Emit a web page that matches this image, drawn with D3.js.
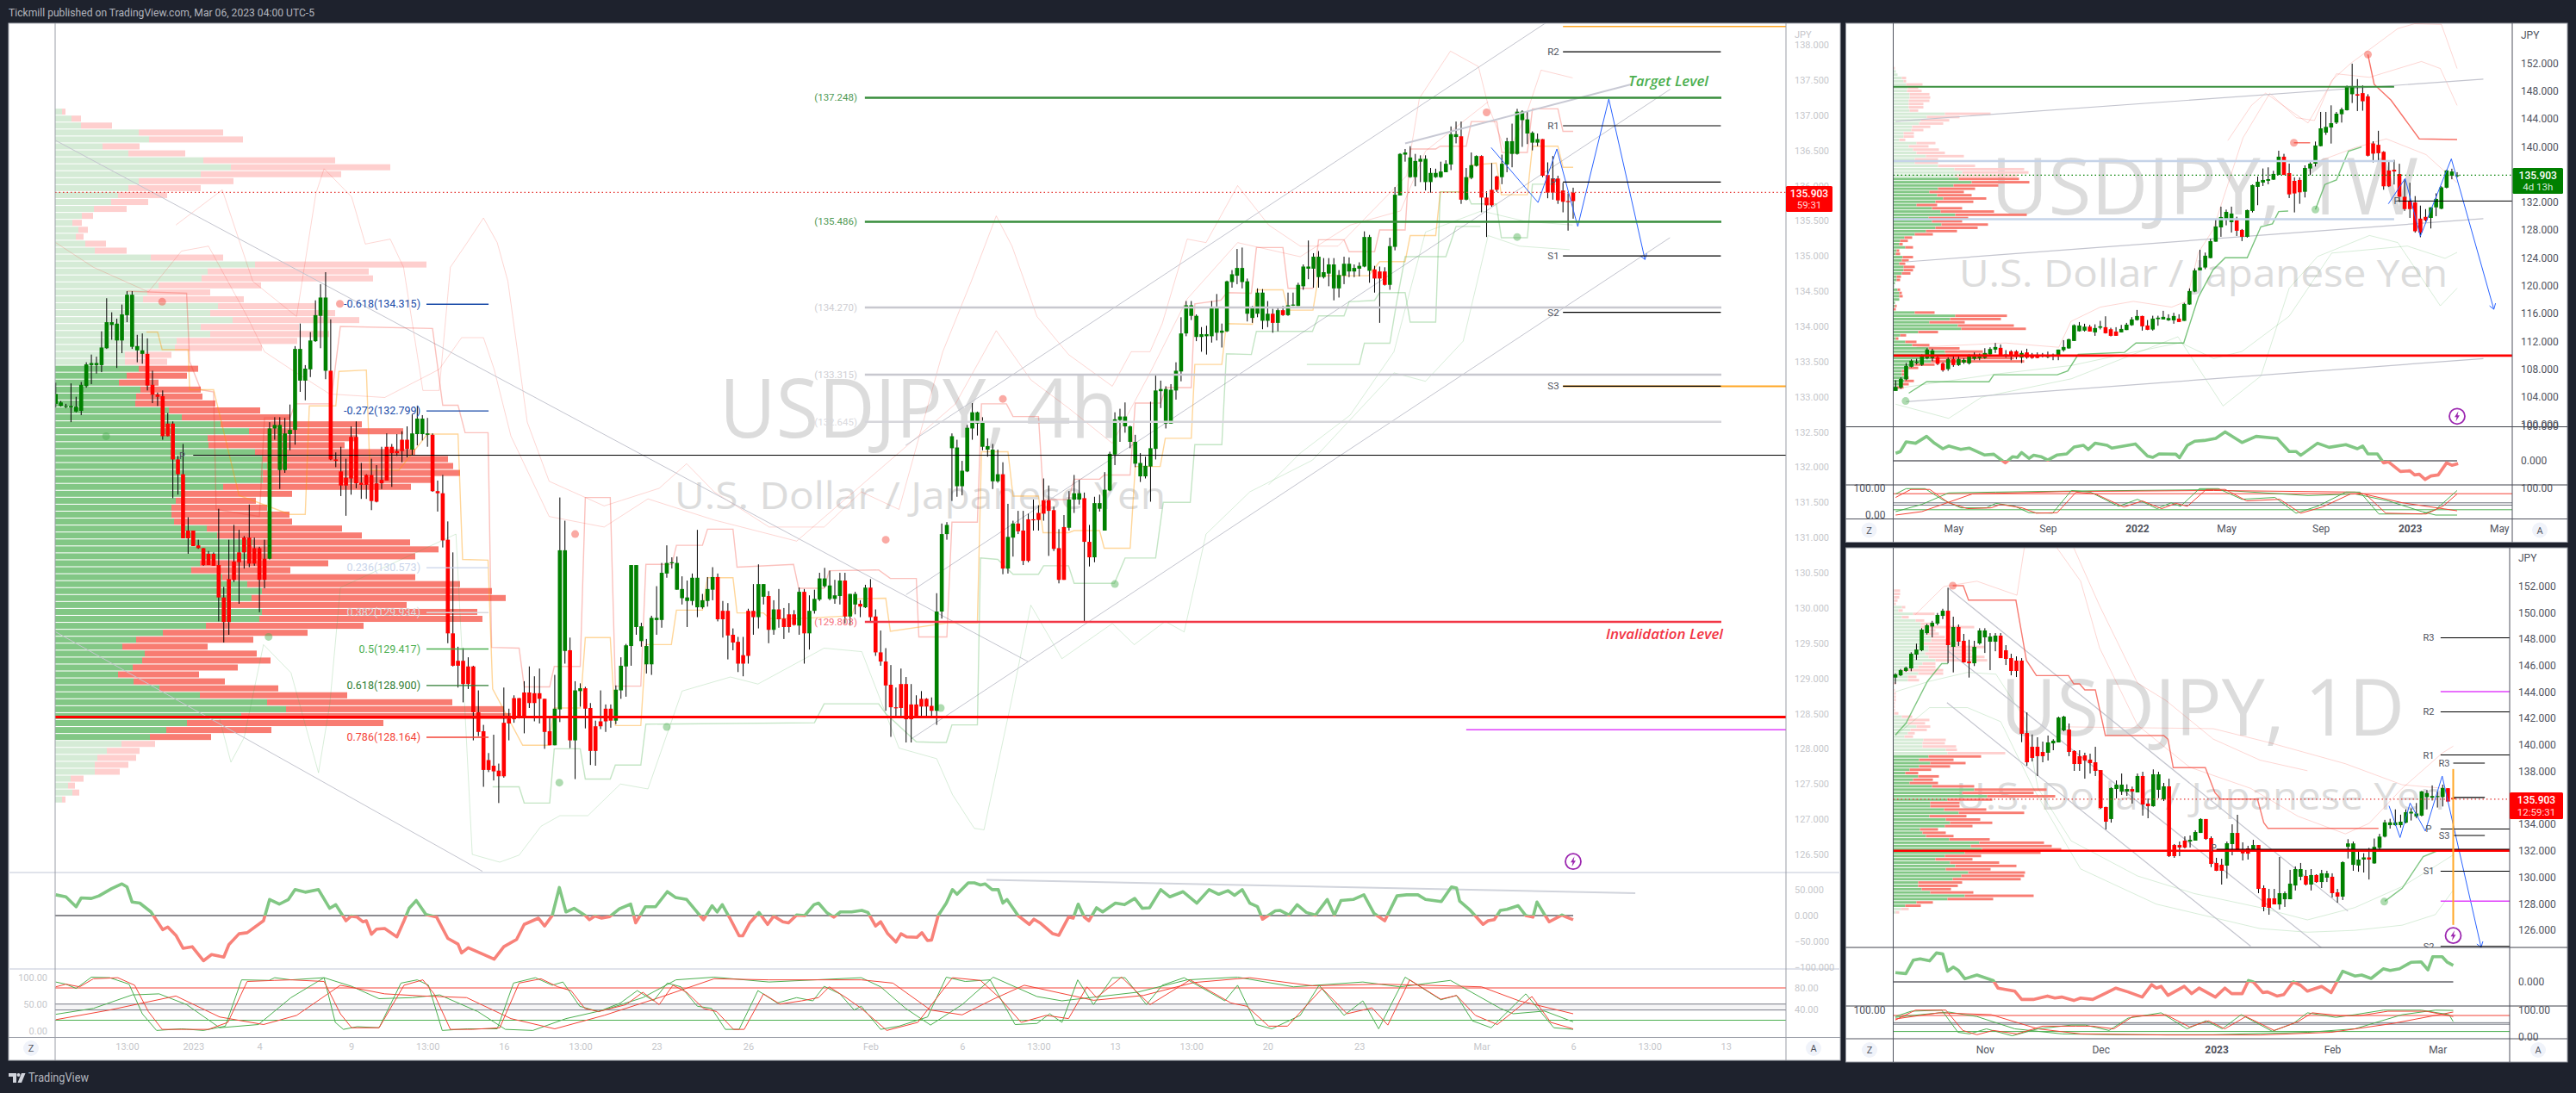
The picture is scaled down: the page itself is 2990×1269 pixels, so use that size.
<!DOCTYPE html>
<html><head><meta charset="utf-8"><title>USDJPY</title>
<script src="https://cdn.jsdelivr.net/npm/d3@7"></script>
<style>html,body{margin:0;padding:0;background:#1e222d;overflow:hidden}svg{display:block}</style></head>
<body><svg id="c" width="2990" height="1269" xmlns="http://www.w3.org/2000/svg"></svg>
<script>
/* ---------- DATA: [open, high, low, close] ---------- */
const bars4h=[[132.90,133.20,132.85,133.04],[132.87,132.94,132.86,132.92],[132.86,132.90,132.84,132.87],[132.85,133.19,132.64,132.87],[132.79,133.00,132.78,132.86],[132.80,133.21,132.74,133.17],[133.15,133.49,133.13,133.46],[133.45,133.60,133.18,133.48],[133.45,133.57,133.33,133.48],[133.45,133.93,133.35,133.70],[133.69,134.40,133.68,134.06],[134.02,134.20,133.81,134.06],[133.80,134.11,133.41,134.04],[133.80,134.31,133.62,134.17],[134.16,134.50,134.06,134.45],[133.71,134.50,133.68,134.45],[133.66,133.88,133.49,133.72],[133.61,133.90,133.47,133.66],[133.61,133.83,133.09,133.16],[133.17,133.37,132.91,133.03],
[133.03,133.06,132.87,133.00],[133.01,133.09,132.39,132.44],[132.62,132.77,132.44,132.44],[132.62,132.65,131.56,132.11],[132.11,132.16,131.61,131.90],[131.90,132.33,130.99,130.99],[131.10,131.29,130.77,130.99],[131.10,131.10,130.88,130.88],[130.89,130.97,130.84,130.85],[130.85,130.85,130.60,130.61],[130.77,130.81,130.61,130.61],[130.77,130.79,130.60,130.60],[130.61,131.41,129.81,130.15],[130.15,130.30,129.51,129.80],[130.41,130.97,129.62,129.80],[130.66,131.18,130.37,130.40],[130.79,131.11,130.06,130.65],[131.00,131.02,130.56,130.79],[131.00,131.47,130.58,130.63],[130.85,131.00,130.60,130.63],
[130.85,130.87,129.94,130.40],[130.70,130.97,130.28,130.40],[130.70,132.64,130.69,132.55],[132.55,132.71,132.39,132.60],[131.96,132.71,131.69,132.60],[131.96,132.70,131.92,132.48],[132.47,132.89,132.24,132.53],[132.53,133.72,132.32,133.68],[133.23,134.04,133.07,133.68],[133.23,133.45,132.95,133.40],[133.39,133.92,133.28,133.80],[133.79,134.37,133.78,134.16],[134.15,134.60,133.69,134.41],[133.37,134.77,133.25,134.41],[133.37,134.10,132.10,132.11],[132.11,132.21,132.00,132.09],[131.94,132.29,131.59,131.74],[131.85,132.12,131.31,131.74],[132.43,132.58,131.61,131.84],[132.43,132.65,131.70,131.77],
[131.78,132.06,131.55,131.75],[131.89,131.90,131.55,131.75],[131.89,132.12,131.39,131.52],[131.77,132.03,131.50,131.51],[131.82,132.29,131.69,131.77],[132.29,132.48,131.81,131.81],[132.29,132.33,131.72,132.20],[132.23,132.47,132.16,132.20],[132.39,132.51,132.07,132.23],[132.39,132.58,132.14,132.26],[132.25,132.75,132.17,132.48],[132.47,132.87,132.31,132.69],[132.47,132.74,132.38,132.69],[132.46,132.70,132.29,132.48],[132.46,132.48,131.65,131.66],[131.66,131.81,131.37,131.63],[131.63,131.89,130.86,130.96],[130.97,131.23,129.50,129.64],[129.64,130.79,129.17,129.18],[129.25,129.45,128.87,129.18],
[129.25,129.43,128.66,128.92],[129.17,129.30,128.85,128.92],[129.17,129.18,128.12,128.52],[128.52,128.83,128.18,128.24],[128.25,128.34,127.46,127.70],[127.84,127.94,127.67,127.70],[127.76,128.20,127.55,127.68],[127.69,127.79,127.23,127.61],[128.37,128.87,127.59,127.61],[128.43,128.57,128.12,128.36],[128.72,128.76,128.37,128.42],[128.72,128.72,128.43,128.45],[128.80,128.96,128.22,128.46],[128.80,129.17,128.58,128.65],[128.79,129.03,128.39,128.65],[128.79,129.14,128.36,128.71],[128.71,128.71,128.00,128.24],[128.25,128.44,128.05,128.05],[128.05,129.05,128.05,128.57],[128.56,131.57,128.38,130.82],
[129.39,131.24,129.21,130.82],[129.40,129.58,128.01,128.12],[128.12,128.96,127.57,128.83],[128.82,128.93,128.60,128.86],[128.86,128.88,128.29,128.57],[128.58,128.65,127.77,127.97],[128.32,128.40,127.76,127.97],[128.39,128.83,128.28,128.32],[128.57,128.63,128.24,128.39],[128.57,128.63,128.30,128.40],[128.40,128.90,128.35,128.84],[128.83,129.30,128.71,129.18],[129.17,129.49,128.74,129.47],[129.46,130.61,129.18,130.61],[129.73,130.61,129.62,130.61],[129.53,129.79,129.45,129.74],[129.20,129.56,129.07,129.46],[129.20,129.89,129.05,129.86],[129.83,130.31,129.62,129.86],[129.83,130.64,129.72,130.50],
[130.49,130.89,130.43,130.64],[130.64,130.72,130.56,130.65],[130.26,130.73,130.26,130.64],[130.14,130.45,130.05,130.27],[130.10,130.39,129.73,130.15],[130.10,130.49,130.04,130.43],[130.01,131.11,129.87,130.43],[130.01,130.20,129.99,130.11],[130.10,130.44,130.02,130.27],[130.26,130.58,130.11,130.44],[130.44,130.49,129.81,129.84],[129.96,130.10,129.58,129.84],[129.96,130.07,129.27,129.61],[129.62,129.71,129.40,129.51],[129.52,129.59,129.09,129.21],[129.33,129.59,129.03,129.21],[129.96,129.99,129.21,129.32],[129.96,130.34,129.62,129.87],[129.87,130.62,129.71,130.34],[130.16,130.34,130.05,130.34],
[130.17,130.24,129.50,129.69],[129.69,130.11,129.62,129.98],[129.98,130.27,129.72,129.84],[129.85,130.00,129.56,129.73],[129.91,130.07,129.65,129.73],[129.91,129.97,129.75,129.76],[129.75,130.29,129.62,130.23],[130.23,130.27,129.21,129.64],[129.64,130.18,129.41,129.96],[129.96,130.26,129.92,130.13],[130.12,130.50,130.10,130.42],[130.31,130.57,130.29,130.42],[130.13,130.53,130.11,130.32],[130.13,130.40,130.06,130.18],[130.17,130.50,130.05,130.39],[130.39,130.50,129.78,129.88],[129.88,130.20,129.75,130.20],[130.05,130.23,129.91,130.20],[130.06,130.11,129.87,130.02],[130.01,130.33,130.00,130.29],
[130.29,130.41,129.81,129.87],[129.88,129.98,129.32,129.37],[129.37,129.68,129.18,129.24],[129.24,129.43,128.54,128.90],[128.91,129.19,128.17,128.59],[128.59,128.87,128.47,128.58],[128.92,129.14,128.47,128.58],[128.92,129.02,128.09,128.42],[128.63,128.92,128.09,128.42],[128.63,128.76,128.44,128.47],[128.71,128.82,128.45,128.60],[128.71,128.72,128.44,128.60],[128.61,128.73,128.47,128.54],[128.54,130.21,128.34,129.95],[129.95,131.20,129.85,131.05],[131.05,131.22,130.97,131.18],[132.27,132.48,131.52,132.44],[131.73,132.39,131.58,132.28],[131.73,132.09,131.60,131.95],[131.94,132.60,131.93,132.56],
[132.55,132.91,132.39,132.78],[132.62,132.79,132.45,132.78],[132.29,132.71,132.24,132.63],[132.25,132.41,132.15,132.30],[131.80,132.33,131.69,132.25],[131.80,132.25,131.78,131.90],[131.90,132.07,130.48,130.56],[130.56,131.48,130.49,131.01],[131.00,131.24,130.73,131.20],[131.20,131.38,131.05,131.09],[131.10,131.38,130.61,130.67],[131.26,131.34,130.65,130.67],[131.26,131.54,131.10,131.25],[131.35,131.46,131.10,131.25],[131.53,131.84,131.24,131.34],[131.53,131.74,130.74,131.38],[131.39,131.44,130.81,130.84],[130.85,131.12,130.35,130.40],[131.15,131.32,130.40,130.40],[131.14,131.66,131.10,131.54],
[131.54,131.89,131.35,131.63],[131.54,131.82,131.47,131.63],[131.56,131.64,129.81,130.94],[130.94,131.18,130.59,130.72],[130.72,131.58,130.65,131.49],[131.41,131.61,131.37,131.49],[131.10,131.93,131.10,131.68],[131.67,132.22,131.66,132.19],[132.18,132.78,132.03,132.68],[132.67,132.83,132.36,132.72],[132.58,132.92,132.49,132.72],[132.36,132.59,132.27,132.58],[132.05,132.46,132.00,132.36],[131.87,132.20,131.79,132.06],[131.87,132.15,131.84,132.02],[132.01,132.93,131.51,132.27],[132.26,133.32,132.11,133.09],[133.08,133.23,132.84,133.11],[132.62,133.15,132.55,133.11],[132.62,133.18,132.62,133.10],
[133.09,133.49,132.96,133.37],[133.36,134.13,133.22,133.90],[133.90,134.36,133.86,134.30],[134.15,134.36,134.09,134.30],[133.85,134.17,133.79,134.15],[133.85,133.99,133.64,133.89],[133.86,134.01,133.60,133.89],[133.86,134.36,133.77,134.26],[133.91,134.46,133.80,134.26],[133.91,134.04,133.70,133.94],[133.93,134.65,133.92,134.64],[134.63,134.80,134.55,134.74],[134.72,135.10,134.60,134.83],[134.63,135.12,134.54,134.83],[134.18,134.68,134.07,134.64],[134.12,134.29,134.05,134.27],[134.18,134.54,134.13,134.48],[134.08,134.53,133.96,134.48],[134.08,134.36,133.99,134.18],[134.18,134.25,133.91,134.05],
[134.05,134.26,133.93,134.23],[134.23,134.29,134.15,134.16],[134.16,134.48,134.15,134.30],[134.30,134.48,134.29,134.31],[134.29,134.62,134.29,134.59],[134.57,134.88,134.52,134.85],[134.82,135.22,134.67,134.85],[134.82,135.04,134.55,134.99],[134.70,135.07,134.55,134.99],[134.70,134.97,134.68,134.77],[134.75,134.97,134.57,134.88],[134.54,134.97,134.37,134.88],[134.54,134.80,134.41,134.73],[134.72,134.99,134.60,134.89],[134.78,134.98,134.70,134.89],[134.78,134.88,134.70,134.83],[134.82,134.91,134.71,134.86],[134.85,135.35,134.84,135.27],[134.79,135.30,134.62,135.27],[134.81,134.86,134.48,134.68],
[134.78,134.85,134.05,134.68],[134.78,134.84,134.58,134.59],[134.59,135.26,134.52,135.14],[135.13,135.98,135.08,135.87],[135.86,136.46,135.86,136.45],[136.44,136.52,136.34,136.47],[136.12,136.56,136.11,136.40],[136.12,136.45,135.99,136.35],[136.34,136.43,136.05,136.38],[136.05,136.43,135.93,136.38],[136.05,136.25,135.90,136.18],[136.12,136.24,136.11,136.18],[136.12,136.34,136.11,136.20],[136.19,136.36,136.19,136.31],[136.30,136.84,136.22,136.73],[136.69,136.91,136.60,136.73],[136.70,136.91,135.74,135.80],[135.80,136.25,135.79,136.12],[136.11,136.47,136.09,136.29],[136.28,136.43,136.27,136.42],
[136.42,136.43,135.62,135.83],[135.83,135.92,135.27,135.72],[135.94,136.32,135.70,135.72],[136.13,136.14,135.91,135.94],[136.12,136.44,136.02,136.31],[136.30,136.68,136.19,136.63],[136.45,136.88,136.26,136.63],[136.45,137.09,136.44,137.05],[136.93,137.07,136.55,137.05],[136.74,137.05,136.59,136.94],[136.61,136.77,136.50,136.75],[136.61,136.74,136.56,136.66],[136.66,136.66,136.12,136.14],[136.15,136.33,135.82,135.90],[136.10,136.42,135.80,135.90],[136.10,136.14,135.74,135.79],[135.93,136.04,135.62,135.77],[135.78,135.89,135.36,135.77],[135.90,135.97,135.53,135.78]];

const barsW=[[104.85,106.38,104.85,105.43],[105.35,106.80,105.15,106.59],[106.51,108.86,106.38,108.45],[108.32,109.40,108.24,109.19],[108.86,109.48,108.65,109.07],[108.61,110.10,108.45,109.85],[109.56,111.00,109.40,110.80],[109.56,110.92,109.15,110.68],[109.68,109.89,108.57,108.74],[108.82,108.94,107.62,107.83],[107.99,109.68,107.74,109.44],[109.44,109.81,108.32,108.57],[108.57,109.81,108.45,109.44],[108.94,109.56,108.74,109.31],[108.82,110.10,108.65,109.89],[109.48,110.39,109.27,109.89],[109.56,110.22,109.27,109.81],[109.60,111.00,109.48,110.31],[110.10,111.13,109.89,110.88],[110.80,111.75,110.31,111.17],[111.05,111.54,109.81,109.89],[110.10,110.72,109.64,109.81],[110.55,110.72,109.27,109.89],[110.55,110.72,109.40,109.73],[109.64,110.63,108.86,110.31],[110.39,110.92,109.48,109.64],[110.06,110.31,109.48,109.60],[110.06,110.39,109.56,109.60],[110.06,110.31,109.68,109.81],[109.73,110.51,109.56,109.97],[109.97,110.22,109.27,110.06],[109.97,110.80,109.27,110.80],[110.72,112.16,110.51,111.17],[110.97,112.37,110.92,112.29],[112.04,114.43,112.04,114.31],[113.44,114.76,113.40,114.27],[113.53,114.52,113.40,114.10],[114.10,114.35,113.40,113.40],[113.28,114.43,112.78,113.90],[113.94,114.93,113.70,114.15],[114.02,115.59,113.11,113.15],[113.73,113.94,112.70,112.78],[113.40,114.02,112.78,112.78],[113.28,114.35,113.28,113.77],[113.61,114.64,113.61,114.39],[114.31,115.47,114.22,115.14],[115.05,116.50,114.97,115.63],[115.63,115.67,113.53,114.15],[114.27,115.05,113.60,113.65],[113.69,115.67,113.53,115.26],[115.18,115.67,114.23,115.39],[115.14,116.38,115.14,115.51],[115.01,115.88,114.93,115.34],[115.01,116.09,114.52,115.63],[115.26,115.88,114.77,114.77],[114.93,117.53,114.93,117.37],[117.29,119.60,117.25,119.23],[119.14,122.49,119.06,122.20],[122.20,125.17,122.20,122.61],[122.61,124.76,122.37,124.31],[123.97,126.74,123.93,126.41],[126.33,129.51,126.33,128.52],[128.39,131.37,127.03,129.88],[129.63,130.95,128.68,130.62],[129.14,131.37,127.65,130.38],[129.39,129.92,127.15,127.90],[128.02,128.15,126.41,127.03],[127.03,130.95,126.91,130.87],[130.75,134.55,130.54,134.47],[134.22,135.71,131.58,134.96],[134.84,136.86,134.34,135.21],[135.09,137.03,134.59,135.33],[135.25,136.53,135.21,136.08],[135.95,139.42,135.91,138.56],[138.56,138.97,135.91,135.95],[136.20,137.56,132.61,133.14],[135.08,135.58,130.54,133.27],[135.21,135.58,131.78,133.43],[133.51,137.31,132.69,136.94],[136.86,137.77,135.91,137.56],[137.56,140.74,137.15,140.17],[140.08,145.00,140.04,142.64],[142.02,145.00,141.70,142.85],[142.77,145.95,140.45,143.39],[143.47,145.00,143.26,144.75],[144.67,145.62,143.47,145.37],[145.25,148.80,145.20,148.71],[147.55,151.95,146.29,148.72],[147.55,149.73,145.13,147.35],[147.71,148.82,145.18,146.54],[147.25,147.55,138.60,138.70],[140.47,140.78,137.74,139.00],[140.27,142.29,137.84,139.06],[139.26,139.36,133.80,134.30],[136.58,137.94,134.20,134.30],[136.68,138.10,134.55,136.43],[136.07,137.54,132.03,132.79],[132.79,135.31,130.76,131.02],[132.13,134.81,129.75,131.02],[131.98,132.89,127.63,127.83],[129.65,131.52,126.97,127.63],[129.90,131.02,129.25,129.40],[129.75,131.27,128.23,131.27],[131.27,133.29,130.00,132.48],[131.07,134.30,131.00,134.15],[134.10,136.68,134.00,136.58],[135.82,136.83,135.31,136.43],[135.78,136.33,135.57,135.90]];

const barsD=[[145.09,145.41,144.61,145.33],[145.26,145.74,145.20,145.65],[145.59,145.91,145.52,145.83],[145.78,147.00,145.57,146.89],[146.82,147.65,146.43,147.21],[147.15,148.82,147.08,148.71],[148.45,149.14,148.34,149.04],[148.95,149.38,148.13,149.23],[149.17,149.97,149.04,149.82],[149.75,150.29,149.51,150.14],[150.14,151.88,146.17,147.54],[147.41,149.69,145.48,148.91],[148.91,149.10,147.47,147.80],[147.87,148.39,146.22,146.24],[146.30,147.95,145.09,146.17],[146.17,147.87,145.96,147.41],[147.67,148.82,147.58,148.65],[148.13,148.82,146.95,148.65],[147.80,148.45,145.65,148.19],[147.80,148.45,147.08,148.26],[148.26,148.45,146.56,146.56],[147.15,147.54,146.04,146.50],[146.56,146.89,145.26,145.59],[146.37,146.69,145.13,145.59],[146.37,146.56,140.21,140.84],[140.90,142.46,138.43,138.69],[139.86,140.79,138.75,139.02],[139.86,140.58,137.65,139.15],[139.47,140.25,138.69,139.15],[139.41,140.71,138.82,140.19],[140.12,140.43,139.60,140.32],[140.19,142.14,140.19,142.07],[141.10,142.20,141.03,142.14],[141.16,141.62,139.15,139.47],[139.54,139.60,138.04,138.56],[139.15,139.60,138.04,138.56],[139.21,139.41,137.45,138.82],[138.89,139.34,137.84,138.63],[138.69,139.86,137.65,138.04],[138.10,138.10,135.18,135.24],[135.31,135.33,133.61,134.20],[134.40,136.80,134.13,136.74],[136.67,137.32,135.96,137.00],[136.48,137.84,136.22,137.00],[136.48,137.02,136.15,136.67],[136.67,136.85,135.57,136.48],[136.41,137.84,136.41,137.65],[137.65,137.97,134.66,135.50],[135.57,135.96,134.46,135.37],[135.37,138.15,135.33,137.78],[136.61,137.97,135.98,137.78],[135.89,137.13,135.76,136.87],[136.87,137.45,131.53,131.60],[132.44,132.51,131.47,131.60],[132.44,132.70,131.60,132.25],[132.77,133.09,132.18,132.25],[132.70,133.16,132.25,132.83],[132.77,133.55,132.77,133.42],[133.35,134.46,133.35,134.40],[134.40,134.40,132.83,132.90],[132.96,133.09,130.77,131.01],[131.08,131.47,130.47,130.49],[130.95,131.40,129.45,130.49],[130.88,132.70,129.91,132.57],[132.51,134.00,131.66,133.35],[133.35,134.72,131.92,131.99],[131.99,132.64,131.27,131.81],[132.18,132.38,131.34,131.79],[132.12,132.83,132.10,132.44],[132.44,132.44,128.80,129.12],[129.19,129.39,127.43,127.76],[128.41,129.12,127.17,127.69],[128.41,129.12,127.95,127.95],[127.95,131.53,127.56,128.80],[128.34,128.93,127.76,128.80],[128.34,130.56,128.34,129.52],[129.38,130.82,129.00,130.62],[130.04,131.08,129.77,130.62],[130.10,130.56,129.38,129.45],[129.45,130.62,129.00,130.17],[130.17,130.23,129.58,129.64],[129.64,130.56,129.19,130.30],[129.97,130.49,129.64,130.30],[130.04,130.30,128.47,128.80],[128.86,129.12,128.08,128.54],[128.54,131.21,128.28,131.14],[132.30,132.88,131.42,132.56],[130.94,132.70,130.49,132.56],[130.89,131.95,130.42,131.34],[131.34,131.82,130.36,131.50],[131.50,132.22,129.83,131.34],[131.05,132.93,131.02,132.30],[132.22,133.28,131.95,133.07],[133.07,134.34,133.01,134.15],[133.94,134.42,133.68,134.15],[133.94,135.13,133.89,134.15],[133.94,134.73,133.76,134.20],[134.13,135.13,134.07,134.92],[134.82,135.21,134.29,134.95],[134.60,135.61,134.47,134.82],[134.66,136.52,134.60,136.49],[136.06,136.60,135.13,136.36],[136.01,136.94,135.80,136.14],[136.06,136.47,135.27,136.14],[136.06,137.00,135.35,136.75],[136.73,136.73,135.66,135.72],[136.01,136.02,135.27,135.90]];

/* volume profile rows: [up volume, total volume], top row first */
const vp4h=[[8,12],[19,30],[30,66],[97,195],[109,218],[55,98],[85,151],[172,325],[204,389],[169,332],[97,207],[85,169],[73,130],[65,108],[45,83],[31,44],[20,31],[27,38],[24,33],[35,59],[46,83],[111,195],[232,431],[177,364],[170,369],[120,239],[107,180],[102,219],[189,303],[180,325],[206,353],[169,283],[180,318],[141,281],[139,240],[81,135],[81,130],[97,166],[83,153],[74,120],[99,169],[94,171],[93,186],[132,238],[147,273],[192,356],[225,404],[177,351],[178,336],[232,418],[241,456],[246,462],[241,470],[241,436],[195,413],[151,275],[140,233],[135,246],[135,272],[138,275],[176,333],[188,356],[229,412],[223,445],[225,418],[168,317],[158,273],[194,418],[223,470],[240,507],[228,523],[204,408],[240,490],[237,496],[175,358],[125,293],[94,230],[78,177],[104,234],[101,250],[90,212],[73,167],[91,197],[121,259],[168,339],[246,461],[268,521],[216,529],[153,381],[129,251],[110,181],[77,116],[60,98],[49,94],[46,85],[46,75],[18,33],[15,23],[20,28],[8,12]];
const vpW=[[1,2],[3,3],[5,5],[10,15],[12,15],[15,34],[17,29],[16,33],[19,42],[19,43],[18,42],[18,35],[18,35],[19,29],[60,113],[39,77],[32,65],[30,58],[22,43],[21,35],[12,24],[12,24],[7,14],[27,49],[18,41],[23,53],[27,60],[38,82],[25,52],[25,52],[52,95],[71,152],[80,157],[72,144],[76,146],[91,158],[70,122],[52,95],[42,82],[51,91],[58,108],[49,93],[27,51],[45,80],[55,117],[72,155],[41,87],[45,80],[56,110],[49,98],[38,74],[25,46],[13,22],[8,17],[7,11],[14,23],[4,7],[3,8],[11,23],[10,18],[7,14],[12,25],[12,23],[10,20],[4,9],[4,8],[2,2],[1,1],[5,8],[7,10],[7,11],[7,7],[2,2],[2,4],[0,3],[25,48],[72,132],[66,125],[42,83],[75,140],[79,154],[29,52],[8,15],[3,6],[14,27],[22,42],[41,77],[60,104],[61,110],[44,140],[44,152],[25,48],[18,29],[10,17],[10,13],[13,18],[13,24],[8,18],[4,12]];
const vpD=[[1,8],[1,8],[1,7],[1,5],[1,3],[10,14],[6,11],[23,48],[10,18],[26,36],[32,46],[32,94],[39,49],[39,53],[44,60],[44,65],[35,78],[41,106],[41,96],[37,91],[41,106],[49,109],[34,49],[29,49],[10,58],[29,58],[17,27],[17,30],[1,3],[1,1],[1,2],[1,3],[1,3],[1,3],[1,2],[1,2],[1,2],[1,6],[10,22],[17,42],[17,37],[27,43],[20,39],[17,25],[13,23],[35,61],[34,60],[34,73],[61,74],[63,130],[41,102],[30,70],[43,84],[30,66],[19,44],[14,29],[29,53],[23,46],[19,52],[45,94],[94,178],[80,163],[109,188],[63,115],[43,77],[43,77],[59,108],[76,152],[42,85],[61,101],[66,115],[60,92],[31,52],[34,61],[38,70],[65,112],[100,175],[90,184],[103,195],[83,171],[60,102],[49,92],[66,123],[72,143],[61,113],[87,153],[79,152],[69,148],[29,80],[29,75],[33,67],[43,93],[83,163],[63,116],[27,46],[14,32],[9,18],[3,7]];

/* oscillator vertices: [bar, value] */
const osc4h=[[0,40],[2,36],[4,17],[5,34],[7,33],[8.5,38],[11,52],[13,61],[14,55],[15,26],[16.5,24],[18.7,7],[21,-27],[22,-22],[23.6,-38],[25,-63],[26.8,-60],[29,-87],[30.6,-75],[33,-80],[34,-56],[36,-35],[37.6,-33],[40.8,-10],[42,31],[43.9,22],[45.7,31],[47,50],[49,45],[51.6,50],[53.8,14],[55,21],[57,-10],[58,-1],[59.2,-3],[60.3,-12],[61,-10],[62,-36],[63,-26],[64.6,-25],[67,-41],[68.4,-10],[69.4,14],[70.8,29],[72.7,2],[74.8,-3],[77,-44],[79,-55],[79.7,-72],[81,-62],[84,-75],[86.1,-84],[88,-60],[90.5,-46],[92,-17],[94.8,-5],[96,-20],[97.5,0],[98.9,54],[100.2,7],[101.8,14],[104,0],[104.8,-8],[105.9,-1],[107.2,-5],[108.8,-2],[110.7,13],[112.9,22],[113.9,-14],[115.8,17],[117.8,17],[120.1,46],[121.7,35],[123.9,31],[127.2,-8],[128.9,19],[129.9,7],[130.9,21],[132.5,-7],[134.2,-39],[134.9,-39],[136.3,-14],[138.1,6],[139.8,-17],[141,-1],[142.8,-12],[143.9,-14],[145.5,1],[147.1,0],[148.9,21],[149.8,24],[151.4,6],[152.8,-3],[154.1,7],[156.3,7],[158.3,10],[159.5,6],[161,-20],[162,-12],[163.4,-35],[165,-51],[166,-35],[167.1,-41],[169.1,-42],[170.1,-33],[171.2,-48],[172,-47],[173.3,0],[174.9,24],[176.1,50],[177,41],[179.2,63],[180.4,63],[181.6,59],[182.5,61],[183.9,50],[185.1,50],[186,24],[186.8,31],[189,0],[191.2,-17],[192.1,-7],[193.3,-14],[195.8,-35],[197,-38],[198.9,-3],[199.8,-5],[200.8,22],[202,-3],[202.9,-10],[204.4,15],[205.6,7],[208.1,24],[209.9,21],[211.9,33],[213.4,14],[214.8,15],[217,50],[218.8,36],[221.4,46],[224.1,24],[226.5,50],[228.4,41],[230.2,48],[231.5,39],[233,50],[234.5,24],[236,17],[237,-7],[239.5,9],[240.4,10],[242.2,1],[243.8,21],[245.6,6],[247.4,1],[249.7,31],[251.1,1],[252.4,29],[254.8,31],[256.9,40],[258.9,4],[261,-10],[263.4,38],[265.3,40],[267.5,40],[269,31],[272.1,27],[274.1,55],[275.1,53],[275.7,28],[277.8,10],[280.3,-17],[281.3,-10],[282.5,-8],[283.7,10],[285,12],[287.2,19],[288.7,0],[290.1,-3],[290.9,26],[292.3,3],[293.3,-12],[295.8,1],[296.7,-3],[298,-8]];
const oscW=[[0,22],[0.9,27],[2,55],[3.8,51],[5.9,71],[7.4,51],[9,35],[10.1,43],[12.4,33],[14,37],[16.9,17],[18.7,19],[20.9,-6],[22.3,12],[23.2,10],[24,24],[25.4,7],[26.3,16],[27.7,12],[29,2],[30.8,17],[32.6,20],[34,40],[35.8,45],[36.7,33],[38,51],[40.3,45],[41.2,37],[45.7,49],[48,14],[49,10],[50.2,20],[53.4,19],[54.1,9],[55.6,45],[57,57],[58.8,59],[61,65],[62.8,84],[66,53],[68.7,71],[72.7,65],[75,27],[76.3,27],[77.2,16],[80.4,51],[82.6,39],[85.8,47],[88,35],[89,43],[90,20],[91.8,20],[93,-6],[93.9,-3],[96.2,-31],[98,-29],[98.9,-41],[99.8,-39],[100.9,-54],[102,-44],[103.4,-41],[105,-6],[106,-13],[107.2,-8]];
const oscD=[[0,27],[2,24],[3.4,63],[4.7,67],[6.5,61],[7.8,84],[9,81],[9.9,31],[11,43],[12,33],[13.2,9],[15.5,20],[18.6,4],[19.5,-18],[22.7,-27],[24,-51],[26.2,-51],[28.9,-41],[30.3,-47],[31.6,-44],[33.9,-54],[35.2,-47],[37.5,-51],[40.2,-31],[41.9,-18],[44.2,-29],[46.9,-44],[48.7,-8],[49.6,-18],[50.5,-13],[51.8,-39],[54.9,-13],[56.3,-34],[57.7,-18],[60.8,-44],[62.6,-18],[63.9,-34],[65.9,-34],[67.1,4],[68,0],[69.8,-31],[70.7,-29],[72.5,-41],[73.8,-37],[75.6,0],[77,-10],[78.3,-27],[81,-13],[82.8,-31],[85,31],[87.3,17],[88.6,20],[90.4,10],[92.7,38],[94,33],[95.8,38],[98,57],[99.9,58],[101.2,35],[102.1,73],[103.9,73],[104.8,58],[106,48]];

const k4hFast=[[0,91],[2,87],[4,79],[7,100],[10.6,99],[14.4,87],[17,32],[19.8,1],[24.7,4],[29,1],[33.3,9],[36.5,95],[41.9,94],[43,99],[46.2,95],[52.7,99],[54.9,16],[56.5,3],[59.2,8],[63.5,6],[67.8,89],[71,95],[73.2,85],[75.9,1],[80.8,4],[86.7,4],[89.9,89],[94.2,99],[97.5,85],[99.6,91],[102.9,46],[106.6,36],[110.9,52],[114.2,75],[117.4,56],[120.1,89],[122.8,82],[126,46],[128.8,42],[131.5,3],[134.2,3],[137.9,75],[141.7,52],[145.5,62],[148.7,56],[150.9,83],[154,69],[156.8,39],[158.2,46],[162,3],[165.6,9],[171.2,26],[174.9,100],[178.6,92],[183.5,95],[188.4,12],[192.7,14],[195.2,32],[197.6,16],[200.7,95],[203.8,49],[207.5,99],[210,99],[214.2,49],[217.3,85],[221.6,99],[229.6,56],[232.1,85],[235.8,12],[238.8,4],[244.4,29],[248.1,85],[253,29],[256.7,56],[259.8,4],[265,100],[272,58],[275.1,66],[278.2,19],[281.9,6],[288.7,69],[294.2,6],[298,3]];
const d4hFast=[[0,82],[2,87],[4.7,82],[7.4,97],[12.2,99],[15.5,85],[18.2,36],[20.9,3],[25.7,3],[30,3],[33.8,16],[37.6,92],[43,94],[46.2,95],[52.7,92],[55.9,32],[58.1,6],[63.5,6],[68.4,85],[72.1,95],[74.3,69],[77.5,3],[81.8,3],[87.2,6],[91,89],[95.3,97],[98.6,82],[101.2,75],[103.9,42],[106.6,36],[112,49],[115.3,72],[118.5,49],[121.2,85],[123.9,72],[127.2,42],[129.8,36],[133.1,3],[135.2,3],[139,69],[142.2,50],[146.5,56],[149.8,62],[151.9,82],[155.2,62],[158.2,42],[163.2,1],[169.3,16],[176.1,99],[181.6,94],[185.3,62],[189.6,16],[194.5,29],[198.9,23],[202.5,82],[204.4,62],[209.3,100],[214.9,49],[222.8,95],[230.8,52],[233.9,46],[238.2,9],[241.9,9],[248.7,79],[253.6,32],[258.5,43],[261.6,11],[265.9,95],[272,59],[275.1,66],[278.8,29],[283.1,12],[289.9,64],[293.6,16],[298,4]];
const k4hSlow=[[0,31],[7.4,42],[15,67],[20.3,69],[25.7,49],[32.2,6],[39.8,12],[46.2,62],[52.7,99],[58.1,83],[63.5,60],[70,62],[75.4,67],[82.9,36],[88.3,3],[93.7,1],[100.2,23],[107.7,39],[115.3,62],[121.8,95],[129.3,100],[140.1,91],[158.2,99],[162,82],[166.9,42],[171.8,11],[178,49],[184.1,100],[192.7,64],[197.6,56],[212.4,72],[222.2,95],[232.1,100],[243.1,82],[256.7,91],[264,82],[273.9,94],[283.7,42],[286.2,32],[292.4,37],[298,17]];
const d4hSlow=[[0,21],[10.6,39],[23.6,65],[32.2,26],[40.8,12],[47.3,29],[55.9,85],[64.6,69],[72.1,65],[80.7,62],[89.4,23],[98,4],[107.7,29],[118.5,62],[129.3,97],[140.1,95],[158.2,95],[164.4,89],[171.8,39],[178,30],[184.1,59],[190.2,85],[203.8,57],[213.6,66],[223.5,90],[234.5,99],[246.8,84],[260.4,87],[269,85],[280,82],[287.4,56],[298,32]];
const kWFast=[[0,79],[2,99],[5.6,99],[8.8,59],[12.4,27],[17.3,27],[19.1,44],[22.7,33],[25.4,9],[29.9,7],[33.5,92],[37.1,86],[42.5,33],[46.1,59],[49.8,24],[52.5,46],[54.3,33],[57.9,99],[61.5,99],[66,59],[72.3,66],[76.3,7],[80.4,33],[85.8,86],[88.5,86],[92.1,4],[100.3,4],[102.9,20],[107,92]];
const dWFast=[[0,66],[2.9,96],[6.5,96],[10.1,46],[13.7,24],[18.2,27],[20,40],[24.1,27],[26.8,7],[30.8,9],[34.4,86],[38.1,79],[43.5,30],[47,53],[50.7,24],[53.4,44],[55.6,33],[59.2,96],[62.8,96],[66.9,53],[73.2,59],[77.2,7],[81.3,30],[86.7,79],[89.5,79],[93.4,7],[101.1,4],[104.3,33],[107,79]];
const kWSlow=[[0,13],[5,40],[10.1,83],[19.1,86],[33.5,90],[60.6,95],[78.6,73],[87.6,79],[93.9,53],[100.3,13],[102.9,0],[107,0]];
const dWSlow=[[0,0],[5,13],[14.6,79],[31.8,88],[60.6,92],[87.6,86],[96.6,46],[107,16]];
const kDFast=[[0,76],[3,96],[8.8,100],[11.9,17],[14.1,11],[17.3,30],[22.2,4],[27.1,30],[33.4,44],[36.1,44],[40.6,24],[44.2,70],[50.5,90],[55.4,30],[59,60],[62.1,30],[65.7,83],[71.6,21],[75.6,50],[78.3,90],[83.7,73],[87.3,83],[92.7,100],[99.9,100],[105.2,83],[106,57]];
const dDFast=[[0,63],[3.8,100],[9.6,100],[12.8,24],[15.5,8],[18.6,24],[23.1,11],[28,40],[34.3,40],[37.5,40],[41.5,30],[45.1,76],[51.4,83],[55.9,37],[59.5,60],[62.6,30],[66.6,76],[72,24],[76.5,57],[79.2,90],[84.6,79],[88.2,79],[93.6,96],[100.8,96],[106,76]];
const kDSlow=[[0,73],[4.7,83],[10.1,93],[15.5,76],[22.7,30],[31.7,11],[42.4,8],[60.4,8],[78.3,17],[87.3,30],[96.3,83],[102.6,100],[106,99]];
const dDSlow=[[0,67],[8.3,90],[18.2,83],[27.1,30],[35.2,11],[51.4,7],[69.4,7],[82.8,17],[94.5,50],[106,93]];

/* overlays: [bar, price] */
const step4hPink=[[14,134.5],[25.7,134.47],[26.3,133.5],[28.5,133.1],[31,133.07],[31.5,131.4],[40,131.3],[41,132.7],[46,132.7],[47,132.9],[54,132.9],[55.9,134.0],[74,133.97],[76,132.88],[79,132.88],[80.4,132.49],[84.9,132.49],[85.6,129.44],[91,129.43],[92,128.88],[97,128.88],[97.9,129.17],[103,129.17],[104,131.57],[108.9,131.57],[109.9,128.89],[114.9,128.89],[115.9,130.62],[121,130.62],[121.9,130.89],[127,130.89],[128,131.12],[133,131.12],[133.8,130.58],[144.9,130.62],[145.9,130.28],[150.9,130.28],[151.9,130.53],[161.6,130.54],[163.9,130.42],[169,130.42],[169.5,129.59],[175,129.59],[176,131.22],[181,131.22],[181.8,132.9],[186.7,132.9],[188,132.72],[193,132.72],[194,131.54],[198.9,131.54],[200,131.83],[205,131.83],[205.9,131.89],[211,131.89],[212,132.91],[217,132.91],[218,133.13],[223,133.13],[223.7,134.32],[228.8,134.37],[230,134.48],[234.8,134.47],[235.8,135.12],[241,135.12],[242,134.54],[246.9,134.54],[248,135.23],[253,135.23],[254,135.06],[259,135.06],[260,135.37],[265,135.37],[266,136.52],[271,136.52],[271.9,136.56],[277,136.56],[278,136.91],[283,136.91],[284,136.47],[289,136.47],[290,137.09],[295,137.09],[296,136.77],[298,136.77]];
const step4hOrange=[[17.8,133.92],[20,133.92],[20.9,133.67],[26,133.67],[26.3,133.1],[31,133.1],[36,131.6],[46,131.33],[49,131.33],[49.8,132.87],[55,132.87],[55.6,133.36],[61,133.38],[61.7,131.96],[67.4,131.96],[73,132.47],[79,132.47],[79.9,130.69],[84.9,130.68],[85.8,128.85],[91.7,128.05],[96.8,128.05],[97.9,128.58],[103,128.58],[104,129.58],[108.9,129.58],[109.9,128.33],[114.9,128.33],[115.9,129.48],[120.9,129.48],[121.9,129.97],[127,129.97],[128,130.43],[133,130.43],[133.8,129.93],[139,129.93],[140.2,129.85],[146,129.85],[156.3,129.89],[157.4,130.13],[163,130.14],[163.9,129.67],[175.2,129.79],[181,129.79],[181.8,132.22],[187,132.22],[188,131.59],[193,131.59],[193.9,131.07],[198.9,131.07],[200,131.1],[205,131.1],[205.9,130.85],[211,130.85],[212,132.01],[216.9,132.01],[217.9,132.41],[223,132.41],[223.7,133.46],[229,133.46],[229.9,134.04],[235,134.03],[235.8,134.52],[241,134.52],[242,134.23],[246.9,134.23],[248,134.72],[257.8,134.72],[260,134.92],[265,134.92],[266,135.29],[271,135.29],[271.9,135.91],[277,135.91],[278,136.29],[282.9,136.32],[283.9,135.87],[289,135.87],[290,136.56],[295,136.56],[296,136.26],[298,136.26]];
const step4hGreen=[[85.8,127.46],[91,127.46],[92,127.23],[97,127.23],[97.9,128.0],[103,128.0],[104,127.57],[108.9,127.57],[109.9,127.77],[114.9,127.77],[115.9,128.35],[149,128.37],[150.9,128.64],[161.6,128.64],[163,128.5],[169,128.1],[173,128.09],[174.9,128.09],[176,128.34],[181,128.34],[181.6,130.71],[185,130.69],[188,130.48],[193,130.48],[194,130.6],[198.9,130.6],[200,130.35],[207.9,130.35],[210,130.71],[216,130.71],[217.5,131.5],[222.8,131.5],[223.7,132.32],[229,132.32],[229.9,133.61],[234.8,133.6],[235.8,133.93],[246.8,133.93],[248,134.15],[253,134.15],[254,134.35],[259,134.37],[260,134.48],[265,134.48],[266,134.06],[271,134.06],[271.9,135.91],[277,135.91],[278,135.74],[282.9,135.74],[283.9,135.26],[289,135.26],[290,136.02],[295,136.02]];
const step4hGreen2=[[245.7,133.46],[256,133.46],[257,133.76],[262,133.76],[263.4,134.37],[265,134.99],[273,134.99],[275,135.42],[279.8,135.42]];
const band4hP1=[[23.6,135.44],[32.7,135.94],[38.7,134.64],[47.3,134.14],[51.1,135.89],[52.7,136.24],[58.1,135.84],[60.8,135.17],[65.7,135.24],[68.3,134.84],[72.1,133.09],[75.3,133.09],[77.5,134.84],[80.8,135.19],[84,135.54],[86.7,135.19],[88.8,134.64],[92.6,132.64],[96.9,131.8],[107.7,131.45],[118.5,131.7],[123.9,132.05],[129.3,131.65],[140.1,131.15],[150.9,131.15],[158.2,131.65],[165.6,131.4],[174.2,133.64],[179.8,134.64],[184.7,135.57],[187.8,135.14],[192.7,134.14],[198.9,133.6],[207.5,133.15],[211.2,133.64],[214.9,133.64],[217.3,134.04],[222.2,135.24],[225.9,135.19],[232.1,136.0],[238.2,135.44],[244.4,135.14],[251.8,135.14],[265.3,136.14],[267.8,137.24],[273.9,137.91],[279.4,137.69],[281.3,137.14],[285,136.44],[288.7,136.99],[291.7,137.64],[297.9,137.53]];
const band4hP2=[[0,135.19],[7.4,134.84],[18.2,134.49],[24.7,135.07],[30,135.14],[37.6,134.14],[41,133.64],[46.2,133.39],[53.8,133.04],[64.6,132.99],[75.3,133.39],[79.7,133.84],[84,133.84],[86.1,133.39],[89.4,132.44],[96.9,131.3],[107.7,131.15],[116.3,131.55],[129.3,131.25],[145.5,130.95],[176.7,132.9],[184.7,133.94],[191.5,133.24],[198.9,132.84],[207.5,132.34],[214.9,133.34],[222.2,134.39],[232.1,135.19],[244.4,134.99],[254.2,135.44],[264.1,135.64],[269,136.49],[281.3,137.19]];
const band4hG1=[[32.2,128.42],[34.4,127.81],[37,128.16],[40.8,129.48],[46.2,129.08],[51.6,127.66],[53.8,128.62],[55.9,130.29],[78.6,131.05],[81.8,126.5],[87.2,126.39],[91,126.49],[95.3,126.9],[99,127.05],[104.5,127.05],[110.9,127.5],[116.3,127.43],[123,128.82],[132.5,129.02],[137.9,128.92],[150.9,129.43],[158.3,129.38],[165.6,128.01],[173,127.86],[176.1,127.35],[180.4,126.87],[182.3,126.85],[187.8,128.72],[191.5,130.04],[197.6,129.28],[207.5,129.78],[211.8,129.48],[217.9,129.81],[221.6,129.66],[225.9,131.05],[234.5,131.65],[246.8,132.1],[262.8,133.34],[269,133.22],[276.4,133.79],[281.3,135.29],[287.4,135.14],[297.3,135.09]];
const band4hG2=[[238.2,131.75],[244.4,132.2],[254.2,132.74],[262.8,133.64],[269,135.34],[280,135.64],[288.7,135.49],[297.9,135.44]];
const trend4h=[[[0,136.64],[190.9,129.24]],[[0,129.66],[83.8,126.26]],[[166.9,132.31],[292.6,138.31]],[[167,130.19],[317.1,137.37]],[[168,128.14],[317,135.26]]];
const trend4hThick=[[265,136.6],[309.5,137.44]];
const plan4h=[[281.9,136.54],[291.1,135.76],[294.8,136.52],[298.9,135.42],[305,137.23],[312.1,134.95]];
const dots4hPink=[[20.9,134.35],[55.8,134.32],[102,131.05],[163,130.97],[186,132.97],[281,137.04]];
const dots4hGreen=[[9.9,132.44],[41.8,129.59],[98.9,127.52],[120,128.31],[173.8,128.58],[208,130.34],[287,135.27]];
const fibLevels=[["-0.618",134.315,"#1a4ba8"],["-0.272",132.799,"#1a4ba8"],["0.236",130.573,"#c9d4ea"],["0.382",129.934,"#d9d9dc"],["0.5",129.417,"#4caf50"],["0.618",128.900,"#2e7d32"],["0.786",128.164,"#f44336"]];
const zoneLevels=[[137.248,"#388e3c","#4f9a55"],[135.486,"#388e3c","#4f9a55"],[134.270,"#c8c8cf","#cfcfd4"],[133.315,"#c8c8cf","#cfcfd4"],[132.645,"#d6d6db","#dadade"],[129.803,"#f23645","#f6717c"]];
const pivots4h=[["R2",137.9],["R1",136.85],["P",136.05],["S1",135.0],["S2",134.2],["S3",133.15]];

const stepWPink=[[90,153.27],[91.2,148.97],[94.4,146.69],[97.1,143.91],[99.8,141.13],[107,141.03]];
const stepWPink2=[[75.9,140.57],[79,140.57]];
const stepWGreen=[[2.5,104.52],[5.9,106.17],[17.8,106.17],[18.7,107.17],[30.8,107.17],[32.8,107.74],[34.8,110.1],[43.6,110.39],[45.8,111.75],[54.9,111.75],[57.7,118.36],[60.5,122.28],[62.8,124.02],[67,124.02],[69.6,128.48],[71.8,128.89],[73,130.67],[74.8,130.75]];
const stepWGreen2=[[80,130.96],[81.8,134.56],[84,135.21],[86.3,139.36],[88.8,139.97]];
const bandWP1=[[4,111.13],[20.9,111.75],[31.1,111.13],[33.4,114.85],[39,116.91],[45.3,117.74],[52.6,116.91],[55.4,117.74],[57.7,124.76],[60.5,128.06],[66.2,141.28],[71.3,147.68],[76.4,144.17],[79.8,143.76],[83.1,149.54],[86.7,151.98],[95.7,157],[98.9,157.7],[104,157.6],[107,151.25]];
const bandWP2=[[63.3,140.88],[67.8,145.94],[70.5,147.71],[78.6,143.41],[84,150.49],[90.3,149.98],[100.2,152.26],[103.8,151.25],[107,145.94]];
const bandWP3=[[78.6,137.34],[87.6,139.87],[93.5,141.13],[101.1,138.85],[107,134.81]];
const bandWG1=[[0,102.94],[10.1,100.9],[16.4,103.95],[33.5,106.6],[53.8,112.65],[62.4,102.69],[69.6,106.99],[75,119.63],[80.4,124.19],[90.3,127.22],[95.7,126.2],[103.8,117.1],[107,119.63]];
const bandWG2=[[0.2,105.2],[18.7,107.24],[33.5,108.51],[44.4,110.28],[54.3,111.8],[60.6,109.52],[66,110.53],[75,115.6],[83.1,124.69],[97.5,125.7],[104.7,123.93],[107,124.79]];
const trendW=[[[0,143.66],[112,149.73]],[[2,123.43],[112,129.65]],[[2,103.3],[112,109.5]]];
const planW=[[93.9,131.77],[97.1,135.42],[100,127.12],[105.9,138.25],[114,116.6]];
const dotsWPink=[[90,153.27],[75.9,140.57]];
const dotsWGreen=[[1.9,103.4],[80,130.96]];

const stepDPink=[[10.9,152.03],[12.9,152.03],[13.9,150.94],[22.9,150.94],[24.9,146.39],[26.8,145.24],[32.9,145.24],[33.9,144.61],[35,144.61],[36,144.16],[38,144.16],[39.9,140.71],[51,140.71],[51.8,140.43],[52.8,138.28],[58.9,138.28],[60.7,136.41],[61.8,135.91],[68.8,135.91],[70,134.13],[70.8,133.7],[91.8,133.7]];
const stepDGreen=[[0,140.76],[2,141.63],[6.1,144.81],[8.8,146.14],[10,146.14]];
const stepDGreen2=[[93,128.19],[96.3,129.17],[100.3,131.56],[103,132.0],[106,132.08]];
const bandDP1=[[3.8,149.85],[9.2,151.97],[15.5,152.37],[23.1,151.31],[24.5,154.89]];
const bandDP2=[[30.7,154.89],[35.2,152.37],[38.8,147.33],[46,141.5],[55.9,138.32],[67.5,136.72],[76.5,134.61],[85.5,133.28],[90,134.07],[96.3,136.72],[103.9,139.38],[106,139.91]];
const bandDP3=[[31.6,141.37],[60.4,141.23],[71.1,140.17],[85.5,138.58],[96.3,136.99],[103.9,136.73]];
const bandDP4=[[33.9,154.89],[38.8,150.52],[46,144.68],[51.4,143.36],[60.4,140.44],[69.3,138.85],[78.3,138.05]];
const bandDG1=[[0,144.02],[6.5,144.81],[13.7,145.48],[19.1,145.35],[24.5,142.03],[26.2,138.58],[27.1,136.73],[33.4,132.75],[46,130.1],[56.8,128.77],[69.3,127.71],[78.3,126.78],[87.3,127.71],[96.3,129.3],[103.9,131.16],[106,131.69]];
const bandDG2=[[0,140.7],[6.5,142.82],[13.7,142.82],[20,141.76],[26.2,136.73],[35.2,130.63],[49.6,127.97],[69.3,126.12],[78.3,125.85],[87.3,125.99],[96.3,126.38],[102.6,127.18],[106,129.03]];
const trendD=[[[10.1,151.84],[86,127.44]],[[10.1,147.07],[81,124.66]],[[9.8,143.2],[67.5,124.79]]];
const planD=[[93.8,135.4],[95.9,133],[97.8,135.61],[100.7,133.49],[103.9,137.65],[111.3,124.7]];
const dotsDPink=[[10.9,152.03]];
const dotsDGreen=[[92.9,128.16]];
const pivotsDLong=[["R3",148.1],["R2",142.5],["R1",139.24],["P",133.65],["S1",130.46],["S2",124.78]];
const pivotsDShort=[["R3",138.63],["",136.03],["S3",133.16]];

const ticks4h=[138,137.5,137,136.5,136,135.5,135,134.5,134,133.5,133,132.5,132,131.5,131,130.5,130,129.5,129,128.5,128,127.5,127,126.5];
const ticksW=[152,148,144,140,136,132,128,124,120,116,112,108,104,100];
const ticksD=[152,150,148,146,144,142,140,138,136,134,132,130,128,126];
const time4hAt=[14,27,40,58,73,88,103,118,136,160,178,193,208,223,238,256,280,298,313,328];
const time4hText=["13:00","2023","4","9","13:00","16","13:00","23","26","Feb","6","13:00","13","13:00","20","23","Mar","6","13:00","13"];
const timeWAt=[11,29,46,63,81,98,115];
const timeWText=["May","Sep","2022","May","Sep","2023","May"];
const timeDAt=[17,39,61,83,103];
const timeDText=["Nov","Dec","2023","Feb","Mar"];
const lastPrice=135.903;

/* ---------- DRAW ---------- */
const svg=d3.select("#c");
const FONT="Roboto, 'Open Sans', sans-serif";
const defs=svg.append("defs");
const GREEN="#008000",RED="#ff0000";
let uid=0;
svg.append("rect").attr("width",2990).attr("height",1269).attr("fill","#1e222d");

function clip(x,y,w,h){const id="cp"+(uid++);defs.append("clipPath").attr("id",id).append("rect").attr("x",x).attr("y",y).attr("width",w).attr("height",h);return `url(#${id})`;}

function chart(c){
  const x=d3.scaleLinear().domain(c.xDomain).range(c.xRange);
  const y=d3.scaleLinear().domain(c.yDomain).range(c.yRange);
  const oy=d3.scaleLinear().domain(c.oscDomain).range(c.oscRange);
  const sy=d3.scaleLinear().domain([0,100]).range(c.stochRange);
  const vx=d3.scaleLinear().domain([0,100]).range([c.plotL,c.plotL+100]);
  const line=d3.line().x(d=>x(d[0])).y(d=>y(d[1]));
  const R=c.axisX, L=c.plotL;
  const root=svg.append("g");
  // panel
  root.append("rect").attr("x",c.panel[0]).attr("y",c.panel[1]).attr("width",c.panel[2]-c.panel[0]).attr("height",c.panel[3]-c.panel[1]).attr("fill","#fff").attr("stroke",c.border).attr("stroke-width",1);
  const plot=root.append("g").attr("clip-path",clip(L,c.panel[1],R-L,c.paneBottom-c.panel[1]));
  // watermark
  c.watermark.forEach(w=>{
    plot.append("text").attr("x",w.x).attr("y",w.y).attr("textLength",w.len).attr("lengthAdjust","spacingAndGlyphs")
      .attr("font-family","'Open Sans', sans-serif").attr("font-size",w.size).attr("fill","#dcdcdc").text(w.t);
  });
  // volume profile
  const rowY=d3.scaleLinear().domain([0,c.vp.length-1]).range([y(c.vpTop),y(c.vpBottom)]);
  const rows=plot.append("g");
  c.vp.forEach((r,k)=>{
    const inVA=k>=c.va[0]&&k<=c.va[1];
    rows.append("rect").attr("x",L).attr("y",rowY(k)-c.rowH/2).attr("width",vx(r[0])-L).attr("height",c.rowH).attr("fill",inVA?"#82c785":"#d5ebd6");
    rows.append("rect").attr("x",vx(r[0])).attr("y",rowY(k)-c.rowH/2).attr("width",vx(r[1])-vx(r[0])).attr("height",c.rowH).attr("fill",inVA?"#f87c72":"#fecfce");
  });
  // bands, steps
  const drawLines=(list,stroke,w,op)=>list.forEach(d=>plot.append("path").attr("d",line(d)).attr("fill","none").attr("stroke",stroke).attr("stroke-width",w).attr("stroke-opacity",op));
  drawLines(c.bandsPink,"#f44336",1,.22);
  drawLines(c.bandsGreen,"#4caf50",1,.22);
  drawLines(c.trend,"#c3c4ce",c.trendW,1);
  drawLines(c.stepsPink,"#f44336",c.stepW,c.stepOp);
  drawLines(c.stepsOrange,"#ff9800",1.4,.4);
  drawLines(c.stepsGreen,"#4caf50",c.stepW,c.stepOp);
  // dots
  c.dotsPink.forEach(d=>plot.append("circle").attr("cx",x(d[0])).attr("cy",y(d[1])).attr("r",4.5).attr("fill","#f44336").attr("fill-opacity",.45));
  c.dotsGreen.forEach(d=>plot.append("circle").attr("cx",x(d[0])).attr("cy",y(d[1])).attr("r",4.5).attr("fill","#4caf50").attr("fill-opacity",.45));
  // candles
  const cg=plot.append("g");
  c.bars.forEach((b,i)=>{
    const [o,h,l,cl]=b, up=cl>=o, X=x(i);
    cg.append("line").attr("x1",X).attr("x2",X).attr("y1",y(h)).attr("y2",y(l)).attr("stroke","#000").attr("stroke-width",1);
    const t=y(Math.max(o,cl)), bt=y(Math.min(o,cl));
    cg.append("rect").attr("x",X-c.bodyW/2).attr("y",t).attr("width",c.bodyW).attr("height",Math.max(1.2,bt-t)).attr("fill",up?GREEN:RED);
  });
  // price line
  plot.append("line").attr("x1",L).attr("x2",R).attr("y1",y(lastPrice)).attr("y2",y(lastPrice)).attr("stroke",c.lastColor).attr("stroke-width",1.2).attr("stroke-dasharray","1.5 3");
  // plan path
  plot.append("path").attr("d",line(c.plan)).attr("fill","none").attr("stroke","#2962ff").attr("stroke-width",1);
  const e=c.plan[c.plan.length-1], ex=x(e[0]), ey=y(e[1]);
  plot.append("path").attr("d",`M${ex-5},${ey-4}L${ex},${ey}L${ex+2},${ey-7}`).attr("fill","none").attr("stroke","#2962ff");
  // extra annotations
  c.extra&&c.extra(plot,root,x,y);
  // lightning
  const bolt=root.append("g").attr("transform",`translate(${x(c.bolt[0])},${y(c.bolt[1])})`);
  bolt.append("circle").attr("r",9).attr("fill","#fff").attr("stroke","#9c27b0").attr("stroke-width",1.8);
  bolt.append("path").attr("d","M1.5,-6L-3,1L-0.5,1L-1.5,6L3,-1L0.5,-1Z").attr("fill","#9c27b0");

  // oscillator pane
  const osc=d3.line().x(d=>x(d[0])).y(d=>oy(d[1]));
  const zero=oy(0);
  const opane=root.append("g").attr("clip-path",clip(L,c.paneBottom,R-L,c.oscBottom-c.paneBottom));
  opane.append("line").attr("x1",L).attr("x2",x(c.bars.length-1)).attr("y1",zero).attr("y2",zero).attr("stroke","#8a8a8f").attr("stroke-width",2);
  if(c.oscExtra) opane.append("path").attr("d",osc(c.oscExtra)).attr("fill","none").attr("stroke","#d1d4dc").attr("stroke-width",2);
  opane.append("path").attr("d",osc(c.osc)).attr("fill","none").attr("stroke","#81c784").attr("stroke-width",3.6).attr("clip-path",clip(L,c.paneBottom,R-L,zero-c.paneBottom)).attr("stroke-linejoin","round");
  opane.append("path").attr("d",osc(c.osc)).attr("fill","none").attr("stroke","#f8827a").attr("stroke-width",3.6).attr("clip-path",clip(L,zero,R-L,c.oscBottom-zero)).attr("stroke-linejoin","round");

  // stochastic pane
  const st=d3.line().x(d=>x(d[0])).y(d=>sy(d[1]));
  const spane=root.append("g").attr("clip-path",clip(L,c.oscBottom,R-L,c.stochBottom-c.oscBottom));
  spane.append("rect").attr("x",L).attr("width",R-L).attr("y",sy(c.grayBand[0])).attr("height",sy(c.grayBand[1])-sy(c.grayBand[0])).attr("fill","#f5f5f6");
  c.grayBand.forEach(v=>spane.append("line").attr("x1",L).attr("x2",R).attr("y1",sy(v)).attr("y2",sy(v)).attr("stroke","#787b86").attr("stroke-width",1));
  spane.append("line").attr("x1",L).attr("x2",R).attr("y1",sy(80)).attr("y2",sy(80)).attr("stroke","#f44336").attr("stroke-width",1);
  spane.append("line").attr("x1",L).attr("x2",R).attr("y1",sy(20)).attr("y2",sy(20)).attr("stroke","#4caf50").attr("stroke-width",1);
  [[c.kSlow,"#4caf50"],[c.dSlow,"#f44336"],[c.kFast,"#4caf50"],[c.dFast,"#f44336"]].forEach(([d,col])=>
    spane.append("path").attr("d",st(d)).attr("fill","none").attr("stroke",col).attr("stroke-width",1));

  // separators
  const sep=c.sep;
  [c.paneBottom,c.oscBottom].forEach(v=>root.append("line").attr("x1",c.panel[0]).attr("x2",c.panel[2]).attr("y1",v).attr("y2",v).attr("stroke",sep).attr("stroke-width",c.sepW));
  root.append("line").attr("x1",c.panel[0]).attr("x2",c.panel[2]).attr("y1",c.stochBottom).attr("y2",c.stochBottom).attr("stroke",c.border2).attr("stroke-width",1);
  root.append("line").attr("x1",L).attr("x2",L).attr("y1",c.panel[1]).attr("y2",c.panel[3]).attr("stroke",c.border2).attr("stroke-width",1);
  root.append("line").attr("x1",R).attr("x2",R).attr("y1",c.panel[1]).attr("y2",c.panel[3]).attr("stroke",c.border2).attr("stroke-width",1);

  // axes
  const styleAxis=(g,col)=>{g.select(".domain").remove();g.selectAll("text").attr("font-family",FONT).attr("font-size",c.axisSize).attr("fill",col);};
  root.append("g").attr("transform",`translate(${R},0)`).call(d3.axisRight(y).tickValues(c.ticks).tickFormat(d3.format(".3f")).tickSize(0).tickPadding(10)).call(g=>styleAxis(g,c.axisColor));
  root.append("g").attr("transform",`translate(${R},0)`).call(d3.axisRight(oy).tickValues(c.oscTicks).tickFormat(d3.format(".3f")).tickSize(0).tickPadding(10)).call(g=>styleAxis(g,c.axisColor));
  root.append("g").attr("transform",`translate(${R},0)`).call(d3.axisRight(sy).tickValues(c.stochTicksR).tickFormat(d3.format(".2f")).tickSize(0).tickPadding(10)).call(g=>styleAxis(g,c.axisColor));
  root.append("g").attr("transform",`translate(${L},0)`).call(d3.axisLeft(sy).tickValues(c.stochTicksL).tickFormat(d3.format(".2f")).tickSize(0).tickPadding(9)).call(g=>styleAxis(g,c.axisColor));
  root.append("g").attr("transform",`translate(0,${c.stochBottom})`).call(d3.axisBottom(x).tickValues(c.timeAt).tickFormat((d,i)=>c.timeText[i]).tickSize(0).tickPadding(c.timePad)).call(g=>{styleAxis(g,c.axisColor);
    g.selectAll("text").attr("font-weight",d=>c.timeBold.includes(d)?"700":"400");});
  root.append("text").attr("x",R+10).attr("y",c.jpyY).attr("font-family",FONT).attr("font-size",c.axisSize).attr("fill",c.axisColor).text("JPY");
  // Z / A buttons
  [["Z",c.zA[0]],["A",c.zA[1]]].forEach(([t,X])=>{
    root.append("circle").attr("cx",X).attr("cy",c.zA[2]).attr("r",9).attr("fill","#f0f3fa");
    root.append("text").attr("x",X).attr("y",c.zA[2]+4).attr("text-anchor","middle").attr("font-family",FONT).attr("font-size",11).attr("fill","#50535e").text(t);
  });
  // last price badge
  const b=c.badge;
  root.append("rect").attr("x",b.x).attr("y",b.y).attr("width",b.w).attr("height",b.h).attr("rx",1.5).attr("fill",b.fill);
  root.append("text").attr("x",b.x+b.w/2).attr("y",b.y+b.h*0.42).attr("text-anchor","middle").attr("font-family",FONT).attr("font-size",12).attr("font-weight",500).attr("fill","#fff").text(d3.format(".3f")(lastPrice));
  root.append("text").attr("x",b.x+b.w/2).attr("y",b.y+b.h*0.86).attr("text-anchor","middle").attr("font-family",FONT).attr("font-size",11.5).attr("fill","#fff").attr("fill-opacity",.85).text(b.t);
}

const hLine=(g,x,y,p,i0,i1,col,w)=>g.append("line").attr("x1",x(i0)).attr("x2",x(i1)).attr("y1",y(p)).attr("y2",y(p)).attr("stroke",col).attr("stroke-width",w);
const label=(g,X,Y,t,col,size,anchor,extra)=>{const s=g.append("text").attr("x",X).attr("y",Y).attr("font-family",FONT).attr("font-size",size).attr("fill",col).attr("text-anchor",anchor||"start").text(t);if(extra)extra(s);return s;};

/* 4h chart */
chart({
  panel:[10,27,2136,1231],plotL:64,axisX:2073,paneBottom:1013,oscBottom:1125,stochBottom:1204.5,
  xDomain:[0,298],xRange:[64.7,1826],yDomain:[138,126.5],yRange:[52,992],
  oscDomain:[0,50],oscRange:[1063,1032.85],stochRange:[1197,1134.5],
  bars:bars4h,bodyW:4.6,lastColor:"#e53935",border:"#b0b3bb",border2:"#9a9da6",sep:"#e0e3eb",sepW:2,
  vp:vp4h,vpTop:137.05,vpBottom:127.28,va:[37,90],rowH:7,
  watermark:[{t:"USDJPY, 4h",x:835,y:508,len:463,size:95},{t:"U.S. Dollar / Japanese Yen",x:783,y:591,len:570,size:44}],
  bandsPink:[band4hP1,band4hP2],bandsGreen:[band4hG1,band4hG2],trend:trend4h,trendW:1,
  stepsPink:[step4hPink],stepsOrange:[step4hOrange],stepsGreen:[step4hGreen,step4hGreen2],stepW:1.4,stepOp:.33,
  dotsPink:dots4hPink,dotsGreen:dots4hGreen,plan:plan4h,bolt:[298,126.4],
  osc:osc4h,oscTicks:[50,0,-50,-100],oscExtra:[[182.8,69],[310.2,43]],
  kFast:k4hFast,dFast:d4hFast,kSlow:k4hSlow,dSlow:d4hSlow,grayBand:[50,39],stochTicksR:[80,40],stochTicksL:[100,50,0],
  ticks:ticks4h,axisColor:"#c6c7cb",axisSize:11,jpyY:44,timeAt:time4hAt,timeText:time4hText,timeBold:[],timePad:7,
  zA:[36,2105,1217],badge:{x:2073,y:216,w:54,h:30,fill:"#ff0000",t:"59:31"},
  extra(g,root,x,y){
    const E=339.9;
    g.append("path").attr("d",d3.line().x(d=>x(d[0])).y(d=>y(d[1]))(trend4hThick)).attr("fill","none").attr("stroke","#c8c9d4").attr("stroke-width",2);
    zoneLevels.forEach(([p,c,t])=>{hLine(g,x,y,p,158.9,327.1,c,2.5);
      label(g,995,y(p)+4,`(${d3.format(".3f")(p)})`,t,11.5,"end");});
    hLine(g,x,y,132.17,27,E,"#000",1);
    label(g,208,y(132.17)+4,"P","#50535e",11);
    hLine(g,x,y,128.45,-1,E,"#ff0000",3);
    hLine(g,x,y,138.26,296,E,"#ffa726",1.6);
    hLine(g,x,y,133.15,296,E,"#ffa726",2);
    hLine(g,x,y,128.27,277,E,"#e040fb",1.6);
    pivots4h.forEach(([t,p])=>{hLine(g,x,y,p,296,327,"#000",1.2);label(g,1803,y(p)+4,t,"#50535e",11.5,"middle");});
    fibLevels.forEach(([r,p,c])=>{hLine(g,x,y,p,72.8,85,c,1.4);label(g,488,y(p)+4,`${r}(${d3.format(".3f")(p)})`,c,12.5,"end");});
    g.append("text").attr("x",1890).attr("y",100).attr("textLength",93).attr("lengthAdjust","spacingAndGlyphs").attr("font-family","'Open Sans',sans-serif").attr("font-style","italic").attr("font-weight",600).attr("font-size",16).attr("fill","#4caf50").text("Target Level");
    g.append("text").attr("x",1864).attr("y",742).attr("textLength",136).attr("lengthAdjust","spacingAndGlyphs").attr("font-family","'Open Sans',sans-serif").attr("font-style","italic").attr("font-weight",600).attr("font-size",16).attr("fill","#f23645").text("Invalidation Level");
  }
});

/* weekly chart */
chart({
  panel:[2142.5,27,2980,629.5],plotL:2197.5,axisX:2916,paneBottom:495.5,oscBottom:563,stochBottom:602.5,
  xDomain:[0,107],xRange:[2200.3,2852],yDomain:[152,100],yRange:[73.5,493],
  oscDomain:[0,100],oscRange:[535,495],stochRange:[598,567],
  bars:barsW,bodyW:4.6,lastColor:"#008000",border:"#9a9da6",border2:"#50535e",sep:"#40434d",sepW:1.2,
  vp:vpW,vpTop:151.3,vpBottom:105.35,va:[34,98],rowH:2.9,
  watermark:[{t:"USDJPY, 1W",x:2311,y:249,len:496,size:92},{t:"U.S. Dollar / Japanese Yen",x:2274,y:333,len:567,size:44}],
  bandsPink:[bandWP1,bandWP2,bandWP3],bandsGreen:[bandWG1,bandWG2],trend:trendW,trendW:1.2,
  stepsPink:[stepWPink,stepWPink2],stepsOrange:[],stepsGreen:[stepWGreen,stepWGreen2],stepW:1.4,stepOp:.75,
  dotsPink:dotsWPink,dotsGreen:dotsWGreen,plan:planW,bolt:[107,101.2],
  osc:oscW,oscTicks:[100,0],kFast:kWFast,dFast:dWFast,kSlow:kWSlow,dSlow:dWSlow,grayBand:[46,37],stochTicksR:[100],stochTicksL:[100,0],
  ticks:ticksW,axisColor:"#50535e",axisSize:12,jpyY:45,timeAt:timeWAt,timeText:timeWText,timeBold:[46,98],timePad:7,
  zA:[2169.5,2948,615.5],badge:{x:2916.5,y:195,w:58.5,h:30,fill:"#008000",t:"4d 13h"},
  extra(g,root,x,y){
    hLine(g,x,y,148.63,-1,95,"#388e3c",2);
    hLine(g,x,y,137.94,-1,95,"#c5d3e8",2.5);
    hLine(g,x,y,129.55,-1,95,"#c5d3e8",2.5);
    hLine(g,x,y,109.93,-1,117.5,"#ff0000",2.6);
    hLine(g,x,y,132.18,95.5,117.5,"#000",1);
    label(g,2782,y(132.18)+4,"P","#50535e",11,"middle");
  }
});

/* daily chart */
chart({
  panel:[2142.5,636,2980,1233],plotL:2197.5,axisX:2913,paneBottom:1100,oscBottom:1168,stochBottom:1206,
  xDomain:[0,106],xRange:[2200,2847.5],yDomain:[152,126],yRange:[680.5,1080],
  oscDomain:[0,100],oscRange:[1140,1100],stochRange:[1203.8,1172.8],
  bars:barsD,bodyW:4.6,lastColor:"#e53935",border:"#9a9da6",border2:"#50535e",sep:"#40434d",sepW:1.2,
  vp:vpD,vpTop:151.66,vpBottom:127.35,va:[50,95],rowH:2.9,
  watermark:[{t:"USDJPY, 1D",x:2322,y:854,len:469,size:92},{t:"U.S. Dollar / Japanese Yen",x:2270,y:940,len:568,size:44}],
  bandsPink:[bandDP1,bandDP2,bandDP3,bandDP4],bandsGreen:[bandDG1,bandDG2],trend:trendD,trendW:1.2,
  stepsPink:[stepDPink],stepsOrange:[],stepsGreen:[stepDGreen,stepDGreen2],stepW:1.4,stepOp:.7,
  dotsPink:dotsDPink,dotsGreen:dotsDGreen,plan:planD,bolt:[106,125.6],
  osc:oscD,oscTicks:[0],kFast:kDFast,dFast:dDFast,kSlow:kDSlow,dSlow:dDSlow,grayBand:[53,47],stochTicksR:[100,0],stochTicksL:[100],
  ticks:ticksD,axisColor:"#50535e",axisSize:12,jpyY:652,timeAt:timeDAt,timeText:timeDText,timeBold:[61],timePad:8,
  zA:[2170,2946,1219],badge:{x:2913,y:920,w:62,h:31,fill:"#ff0000",t:"12:59:31"},
  extra(g,root,x,y){
    const E=117.5;
    hLine(g,x,y,132.1,61,E,"#000",1.6);
    hLine(g,x,y,132.0,-1,E,"#ff0000",2.6);
    label(g,x(60.5),y(132.1)+2,"P","#50535e",10,"middle");
    pivotsDLong.forEach(([t,p])=>{hLine(g,x,y,p,103.6,E,"#000",1.1);label(g,2819,y(p)+4,t,"#50535e",11,"middle");});
    pivotsDShort.forEach(([t,p])=>{hLine(g,x,y,p,106,112,"#000",1.1);if(t)label(g,2837,y(p)+4,t,"#50535e",11,"middle");});
    hLine(g,x,y,144.03,103.6,E,"#e040fb",1.4);
    hLine(g,x,y,128.2,103.6,E,"#e040fb",1.4);
    g.append("line").attr("x1",x(106)).attr("x2",x(106)).attr("y1",y(138.18)).attr("y2",y(126.4)).attr("stroke","#ffa726").attr("stroke-width",2);
  }
});

/* frame text */
svg.append("text").attr("x",10).attr("y",19).attr("textLength",355).attr("lengthAdjust","spacingAndGlyphs").attr("font-family",FONT).attr("font-size",13).attr("fill","#b2b5be").text("Tickmill published on TradingView.com, Mar 06, 2023 04:00 UTC-5");
const logo=svg.append("g").attr("fill","#d1d4dc");
logo.append("path").attr("d","M10,1246H19V1257H15V1250H10Z");
logo.append("circle").attr("cx",21.5).attr("cy",1248).attr("r",2);
logo.append("path").attr("d","M25,1246H29.5L25,1257H20.5Z");
svg.append("text").attr("x",33).attr("y",1256).attr("textLength",70).attr("lengthAdjust","spacingAndGlyphs").attr("font-family",FONT).attr("font-size",14).attr("fill","#b2b5be").text("TradingView");
</script></body></html>
